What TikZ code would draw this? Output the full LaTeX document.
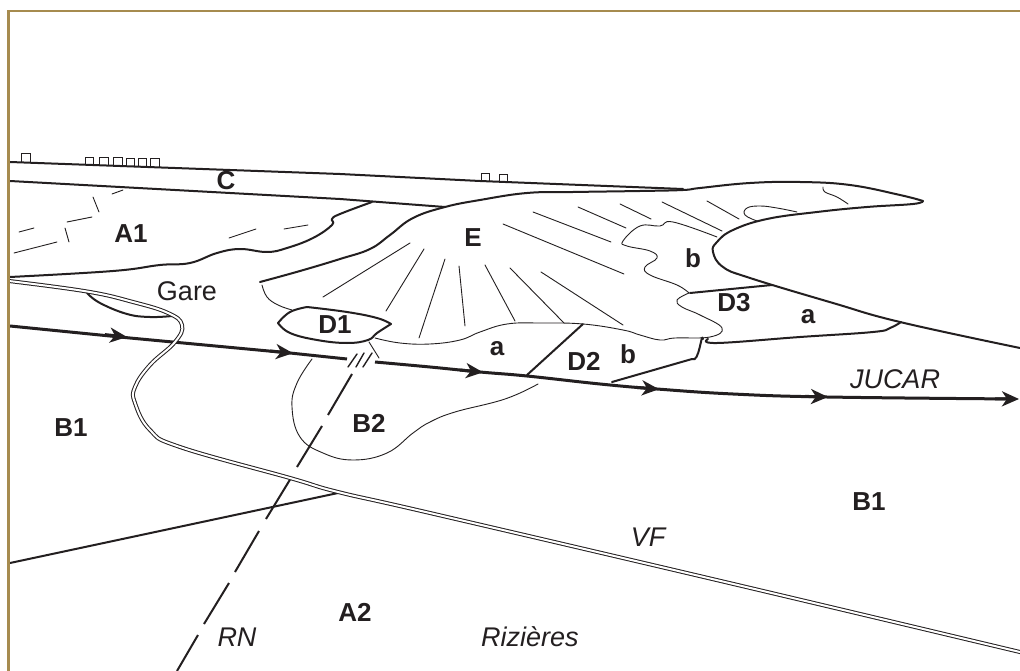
\documentclass[tikz,border=0pt]{standalone}
\usepackage{fontspec}
\setmainfont{Liberation Sans}
\usetikzlibrary{arrows.meta}
\definecolor{ink}{HTML}{231F20}
\definecolor{framegold}{HTML}{A68B4F}
\tikzset{
  thinl/.style={draw=ink,line width=0.9pt,line cap=round,line join=round},
  midl/.style={draw=ink,line width=2pt,line cap=round,line join=round},
  medl/.style={draw=ink,line width=1.4pt,line cap=round,line join=round},
  riverl/.style={draw=ink,line width=3pt,line join=round},
  rnl/.style={draw=ink,line width=2pt},
  roadl/.style={draw=ink,line width=1pt,double=white,double distance=2pt,line join=round},
  rivertip/.style={draw=ink,line width=3pt,-{Stealth[length=17pt,width=15pt,inset=5pt,fill=ink]}},
  house/.style={draw=ink,line width=0.8pt},
  lab/.style={font=\fontsize{26}{28}\selectfont\bfseries,text=ink,inner sep=0pt},
  plainlab/.style={font=\fontsize{27}{29}\selectfont,text=ink,inner sep=0pt},
  itlab/.style={font=\fontsize{27}{29}\selectfont\itshape,text=ink,inner sep=0pt},
  sm/.style={smooth,tension=0.7}
}
\begin{document}
\begin{tikzpicture}[x=1pt,y=-1pt]
\useasboundingbox (0,0) rectangle (1020,671);
\fill[white] (0,0) rectangle (1020,671);
% houses
\foreach \xa/\xb/\ya/\yb in {21/30/153/162,85/93/157/164,99.5/108/157/165,113/122/157/165,126/134/158/166,138/146/158/166,150/159/158/167,481/489/173/181,499/507/174/182}
  \draw[house] (\xa,\yb) -- (\xa,\ya) -- (\xb,\ya) -- (\xb,\yb);
% railway / C band
\draw[midl] (10,162) -- (340,174) -- (480,181) -- (683,189);
\draw[midl] (10,181) -- (340,199) -- (445,207);
% A1 lower limit
\draw[midl] plot[sm] coordinates {(372,202) (340,214) (332,219) (332,225) (313,238) (287,248) (267,252) (240,249) (217,253) (190,263) (160,265) (113,271) (10,277)};
% E outer limit
\draw[midl] plot[sm] coordinates {(260,282) (300,271) (340,259) (370,249) (390,235) (413,218) (445,207) (480,200) (527,193) (573,192) (640,191) (683,190) (700,188) (750,183) (800,182) (850,185) (900,195) (923,201)};
\draw[midl] plot[sm] coordinates {(923,201) (913,204) (867,207) (817,212) (767,219) (733,230) (717,242) (713,252) (723,267) (750,278) (833,303) (900,322) (1020,348)};
% small upper-right curves
\draw[thinl] plot[sm] coordinates {(823,187) (825,192) (837,197) (848,204)};
\draw[thinl] plot[sm] coordinates {(757,221) (745,215) (747,208) (760,206) (777,208) (797,212)};
% hatches E
\foreach \a/\b in {{620,204}/{651,219},{662,202}/{722,231},{707,201}/{739,219},{533,212}/{611,242},{578,207}/{626,228},{503,224}/{624,274},{541,272}/{623,325},{510,268}/{564,323},{485,265}/{515,321},{459,266}/{465,326},{445,259}/{419,338},{424,249}/{386,311},{410,243}/{323,297}}
  \draw[thinl] (\a) -- (\b);
% A1 dashes
\foreach \a/\b in {{112,194}/{123,190},{93,197}/{99,212},{67,222}/{92,217},{19,232}/{34,228},{65,228}/{69,242},{14,253}/{57,242},{229,238}/{256,229},{284,229}/{308,225}}
  \draw[thinl] (\a) -- (\b);
% wiggly limit upper
\draw[thinl] plot[sm] coordinates {(717,237) (673,222) (660,226) (640,226) (623,241) (627,246) (650,251) (657,258) (645,267) (650,275) (677,285) (689,293)};
% wiggly limit lower
\draw[thinl] plot[sm] coordinates {(689,293) (677,300) (682,307) (700,315) (722,328) (710,337) (675,338) (660,340) (640,335) (623,330) (583,324) (540,323) (507,324) (480,332) (460,340) (430,344) (400,343) (375,338)};
% D lines
\draw[midl] (690,293) -- (772,285);
\draw[midl] (583,324) -- (527,375);
\draw[midl] (612,382) -- (692,359) to[out=-35,in=100] (703,339);
\draw[midl] plot[sm] coordinates {(708,339) (717,343) (800,337) (873,332) (890,328) (901,322)};
% D1 patch
\draw[midl] plot[sm] coordinates {(278,323) (290,312) (307,307)};
\draw[midl] plot[sm] coordinates {(307,307) (347,312) (377,318) (391,324)};
\draw[midl] plot[sm] coordinates {(391,324) (377,333) (368,340) (347,343) (317,340) (290,333) (278,323)};
\draw[thinl] plot[sm] coordinates {(262,285) (267,297) (278,305) (292,310)};
\draw[thinl] (369,342) -- (379,358);
% river
\draw[riverl] (10,326) -- (130,338) -- (290,353) -- (347,359);
\draw[riverl] plot[sm] coordinates {(375,362) (430,367) (480,372) (527,376) (600,384) (657,389) (733,394) (827,397) (1015,399)};
\draw[rivertip] (105,334.6) -- (127,337);
\draw[rivertip] (270,351) -- (293,353.2);
\draw[rivertip] (460,370) -- (483,372.3);
\draw[rivertip] (636,387.4) -- (659,389.2);
\draw[rivertip] (805,396.4) -- (828,397);
\draw[rivertip] (995,398.8) -- (1019,399);
% breaks on the river
\draw[medl] (348,367) -- (357,354);
\draw[medl] (356,367) -- (364,353);
\draw[medl] (363,367) -- (372,353);
% B2 limit
\draw[thinl] plot[sm] coordinates {(312,359) (297,383) (292,407) (300,437) (323,453) (353,460) (387,453) (413,433) (430,422) (455,412) (505,399) (538,384)};
% road RN
\draw[rnl] (352,374) -- (328,415);
\draw[rnl] (322,426) -- (297,467);
\draw[rnl] (291,478) -- (266,519);
\draw[rnl] (259,531) -- (235,572);
\draw[rnl] (229,583) -- (204,624);
\draw[rnl] (198,635) -- (177,671);
% fault line
\draw[midl] (338,493) -- (10,563);
% curve under road
\draw[midl] plot[sm] coordinates {(87,293) (100,303) (127,314) (150,317) (172,316)};
% VF double road
\draw[roadl] plot[sm] coordinates {(9,281) (87,291.5) (133,302) (168,313) (182,325) (175,342) (150,365) (135,387) (135,403) (150,430) (180,447) (290,478) (338,492) (430,513) (725,582) (1022,652.5)};
% frame
\draw[framegold,line width=2.6pt] (8.7,671) -- (8.7,11) -- (1020,11);
% labels
\node[lab] (nC) at (226,181) {C};
\node[lab] (nA1) at (131,234) {A1};
\node[lab] (nE) at (473,238) {E};
\node[plainlab] (nGare) at (187,291) {Gare};
\node[lab] (nD1) at (335,325) {D1};
\node[lab] (na1) at (497,349) {a};
\node[lab] (nD2) at (584,361) {D2};
\node[lab] (nb1) at (628,354) {b};
\node[lab] (nb2) at (693,258) {b};
\node[lab] (nD3) at (734,303) {D3};
\node[lab] (na2) at (808,317) {a};
\node[lab] (nB1a) at (71,428) {B1};
\node[lab] (nB2) at (369,423) {B2};
\node[lab] (nB1b) at (869,502) {B1};
\node[lab] (nA2) at (355,612) {A2};
\node[itlab] (nJ) at (895,379) {JUCAR};
\node[itlab] (nVF) at (648,537) {VF};
\node[itlab] (nRN) at (237,637) {RN};
\node[itlab] (nRiz) at (530,637) {Rizières};
\end{tikzpicture}
\end{document}
